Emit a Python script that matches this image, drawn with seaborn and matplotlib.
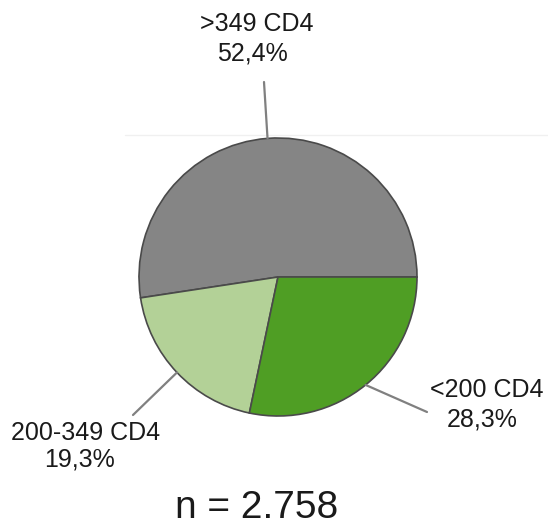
import numpy as np
import matplotlib
matplotlib.use("Agg")
import matplotlib.pyplot as plt
import seaborn as sns

# --- Data ---
categories = [">349 CD4", "200-349 CD4", "<200 CD4"]
shares = [52.4, 19.3, 28.3]
pct_labels = ["52,4%", "19,3%", "28,3%"]
colors = ["#858585", "#b3d197", "#4f9e24"]
total_text = "n = 2.758"

# --- Style ---
sns.set_theme(style="white")
plt.rcParams['font.family'] = ['Liberation Sans', 'DejaVu Sans']

W, H = 548, 527
CX, CY, R = 278, 277, 139  # pie centre / radius in pixels


def px(x, y):
    # pixel position -> data units (pie radius = 1)
    return (x - CX) / R, (CY - y) / R


fig = plt.figure(figsize=(W / 100, H / 100), dpi=100)
ax = fig.add_axes([0, 0, 1, 1])

wedges, _ = ax.pie(shares, colors=colors, startangle=0, counterclock=True,
                   radius=1, center=(0, 0),
                   wedgeprops=dict(edgecolor="#4a4a4a", linewidth=1.2))

# pie() resets the limits, so set them afterwards
ax.set_xlim(-CX / R, (W - CX) / R)
ax.set_ylim(-(H - CY) / R, CY / R)
ax.set_aspect("equal")
ax.axis("off")

# faint rule behind the top of the pie
x0, yl = px(125, 135)
x1, _ = px(548, 135)
ax.plot([x0, x1], [yl, yl], color="#f0f0f0", lw=1, zorder=0)

# leader line end points and label positions (pixels)
line_ends = [(264, 82), (133, 415), (427, 412)]
name_pos = [(257, 24), (86, 433), (487, 390)]
pct_pos = [(252, 53), (79, 460), (482, 420)]

for w, end, npos, ppos, name, pct in zip(wedges, line_ends, name_pos, pct_pos,
                                         categories, pct_labels):
    mid = np.deg2rad((w.theta1 + w.theta2) / 2)
    ex, ey = px(*end)
    ax.plot([np.cos(mid), ex], [np.sin(mid), ey], color="#808080", lw=1.6,
            zorder=1)
    ax.text(*px(*npos), name, ha="center", va="center", fontsize=18,
            color="#1a1a1a")
    ax.text(*px(*ppos), pct, ha="center", va="center", fontsize=18,
            color="#1a1a1a")

ax.text(*px(257, 518), total_text, ha="center", va="baseline", fontsize=28,
        color="#1a1a1a")

fig.savefig("out.png", dpi=100)
